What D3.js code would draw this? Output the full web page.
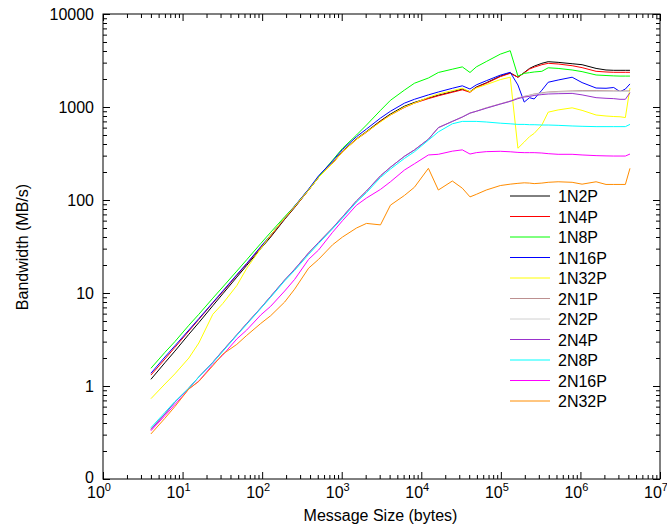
<!DOCTYPE html>
<html>
<head>
<meta charset="utf-8">
<script src="https://cdn.jsdelivr.net/npm/d3@7"></script>
<style>
  body { margin: 0; background: #fff; }
  text { font-family: "Liberation Sans", Arial, Helvetica, sans-serif; fill: #000; }
</style>
</head>
<body>
<div id="chart"></div>
<script>
// message sizes (bytes) shared by every run
const sizes = [4, 6, 8, 12, 16, 24, 32, 48, 64, 96, 128, 192, 256, 384, 512, 768, 1024, 1536, 2048, 3072,
  4096, 6144, 8192, 12288, 16384, 24576, 32768, 40960, 49152, 65536, 98304, 131072, 163840, 196608, 229376,
  262144, 327680, 393216, 524288, 786432, 1048576, 1572864, 2097152, 2621440, 3145728, 3670016, 4194304];

// bandwidth (MB/s) per run
const bw1N2P = [1.18, 1.78, 2.37, 3.6, 4.8, 7.3, 9.8, 14.8, 19.8, 30, 40, 62, 83, 128, 175, 250, 335, 455, 545, 710,
  840, 1020, 1120, 1250, 1340, 1460, 1560, 1460, 1640, 1820, 2150, 2330, 2090, 2350, 2600, 2750, 2950, 3070, 3020,
  2920, 2850, 2600, 2500, 2480, 2480, 2480, 2480];
const bw1N4P = [1.31, 1.95, 2.6, 3.9, 5.2, 7.8, 10.3, 15.5, 20.5, 31, 41, 63, 84, 128, 176, 248, 330, 450, 535, 700,
  820, 990, 1100, 1230, 1320, 1440, 1530, 1440, 1620, 1800, 2120, 2300, 2090, 2330, 2560, 2680, 2850, 2950, 2900,
  2780, 2650, 2420, 2380, 2360, 2360, 2360, 2360];
const bw1N8P = [1.55, 2.3, 3.0, 4.5, 5.9, 8.8, 11.6, 17.2, 22.8, 34, 45, 66, 86, 130, 178, 268, 360, 500, 640, 920,
  1180, 1520, 1800, 2050, 2350, 2550, 2700, 2350, 2700, 3080, 3700, 4030, 2150, 2300, 2340, 2380, 2420, 2640, 2600,
  2500, 2400, 2210, 2180, 2160, 2150, 2150, 2150];
const bw1N16P = [1.37, 2.05, 2.7, 4.0, 5.3, 7.9, 10.5, 15.7, 20.8, 31.5, 42, 64, 86, 131, 182, 262, 350, 480, 580, 760,
  900, 1100, 1210, 1350, 1450, 1590, 1690, 1560, 1730, 1915, 2200, 2360, 1725, 1130, 1260, 1220, 1515, 1845, 1950,
  2090, 1830, 1600, 1590, 1620, 1460, 1560, 1770];
const bw1N32P = [0.73, 1.05, 1.35, 2.0, 2.9, 5.9, 7.7, 12, 18.4, 30, 42, 64, 85, 128, 175, 248, 330, 450, 540, 690,
  820, 1000, 1100, 1270, 1380, 1500, 1590, 1460, 1600, 1740, 1970, 2090, 360, 420, 480, 520, 640, 880, 930,
  980, 920, 820, 800, 790, 785, 770, 1600];
const bw2N1P = [0.345, 0.5, 0.67, 0.95, 1.25, 1.8, 2.4, 3.55, 4.7, 6.9, 9.2, 13.8, 18, 27, 35, 50, 66, 98, 125, 182,
  225, 295, 345, 450, 600, 700, 780, 860, 900, 980, 1080, 1160, 1250, 1300, 1340, 1380, 1420, 1450, 1470,
  1490, 1500, 1500, 1495, 1490, 1490, 1490, 1490];
const bw2N2P = [0.34, 0.5, 0.67, 0.95, 1.25, 1.8, 2.4, 3.55, 4.7, 6.9, 9.2, 13.8, 18, 27, 35, 50, 66, 98, 125, 182,
  225, 295, 345, 450, 600, 700, 780, 860, 900, 975, 1075, 1150, 1240, 1290, 1330, 1370, 1400, 1430, 1450,
  1460, 1470, 1470, 1470, 1470, 1470, 1470, 1470];
const bw2N4P = [0.34, 0.5, 0.67, 0.95, 1.25, 1.8, 2.4, 3.55, 4.7, 6.9, 9.2, 13.8, 18, 27, 35, 50, 66, 98, 125, 182,
  225, 295, 345, 450, 600, 700, 780, 860, 900, 970, 1075, 1150, 1230, 1280, 1300, 1330, 1360, 1380, 1390,
  1400, 1350, 1260, 1240, 1230, 1210, 1210, 1425];
const bw2N8P = [0.356, 0.52, 0.68, 0.95, 1.25, 1.78, 2.35, 3.5, 4.6, 6.8, 9.0, 13.5, 17.5, 26, 34, 49, 64, 95, 120, 175,
  215, 280, 330, 440, 540, 660, 700, 700, 700, 690, 670, 660, 650, 650, 645, 645, 640, 640, 635,
  625, 620, 615, 615, 615, 615, 615, 650];
const bw2N16P = [0.33, 0.48, 0.63, 0.93, 1.13, 1.7, 2.15, 3.2, 4.0, 5.8, 7.2, 10.5, 14, 23, 29, 45, 60, 88, 105, 130,
  157, 210, 245, 305, 310, 335, 346, 312, 323, 331, 334, 330, 325, 323, 323, 323, 320, 315, 310,
  310, 305, 300, 298, 297, 297, 297, 312];
const bw2N32P = [0.305, 0.45, 0.6, 0.93, 1.12, 1.65, 2.2, 2.8, 3.5, 4.7, 5.7, 8.0, 11, 18.5, 23, 33, 40, 50, 56, 54,
  88, 112, 137, 219, 128, 160, 134, 108, 115, 128, 143, 148, 151, 153, 152, 150, 152, 155, 157,
  155, 148, 157, 147, 147, 147, 147, 219];

const seriesNames = ["1N2P", "1N4P", "1N8P", "1N16P", "1N32P", "2N1P", "2N2P", "2N4P", "2N8P", "2N16P", "2N32P"];
const seriesValues = [bw1N2P, bw1N4P, bw1N8P, bw1N16P, bw1N32P, bw2N1P, bw2N2P, bw2N4P, bw2N8P, bw2N16P, bw2N32P];
const seriesColors = ["#000000", "#ff0000", "#00ff00", "#0000ff", "#ffff00", "#bc9090", "#d0d0d0",
  "#9932cc", "#00ffff", "#ff00ff", "#ff8c00"];

const xMajor = [1, 10, 100, 1e3, 1e4, 1e5, 1e6, 1e7];
const yMajor = [0.1, 1, 10, 100, 1000, 10000];
const yTickLabels = ["0", "1", "10", "100", "1000", "10000"];

const W = 667, H = 531;
const plotL = 103, plotR = 660, plotT = 14, plotB = 479;

const svg = d3.select("#chart").append("svg")
  .attr("width", W)
  .attr("height", H);

const x = d3.scaleLog().domain([1, 1e7]).range([plotL, plotR]);
const y = d3.scaleLog().domain([0.1, 10000]).range([plotB, plotT]);

// minor ticks at 2..9 of every decade
const xMinor = [];
for (let d = 1; d < 1e7; d *= 10) for (let k = 2; k <= 9; k++) xMinor.push(d * k);
const yMinor = [];
for (let d = 0.1; d < 9999; d *= 10) for (let k = 2; k <= 9; k++) yMinor.push(+(d * k).toPrecision(3));

function tickAxis(axis, values, size, tx, ty) {
  svg.append("g")
    .attr("transform", `translate(${tx},${ty})`)
    .call(axis.tickValues(values).tickSize(size).tickFormat(""))
    .call(g => g.select(".domain").remove())
    .call(g => g.selectAll("line").attr("stroke", "#000").attr("stroke-width", 1));
}

// inward ticks on all four sides (mirrored)
tickAxis(d3.axisBottom(x), xMajor, -7, 0, plotB);
tickAxis(d3.axisBottom(x), xMinor, -4, 0, plotB);
tickAxis(d3.axisTop(x), xMajor, -7, 0, plotT);
tickAxis(d3.axisTop(x), xMinor, -4, 0, plotT);
tickAxis(d3.axisLeft(y), yMajor, -7, plotL, 0);
tickAxis(d3.axisLeft(y), yMinor, -4, plotL, 0);
tickAxis(d3.axisRight(y), yMajor, -7, plotR, 0);
tickAxis(d3.axisRight(y), yMinor, -4, plotR, 0);

// border
svg.append("rect")
  .attr("x", plotL).attr("y", plotT)
  .attr("width", plotR - plotL).attr("height", plotB - plotT)
  .attr("fill", "none").attr("stroke", "#000").attr("stroke-width", 1);

// y tick labels
svg.append("g").selectAll("text")
  .data(yMajor)
  .join("text")
  .attr("x", 94)
  .attr("y", (d, i) => y(d) + (i === 0 ? 4 : 6))
  .attr("text-anchor", "end")
  .attr("font-size", 16)
  .text((d, i) => yTickLabels[i]);

// x tick labels as 10^n
const xl = svg.append("g").selectAll("text")
  .data(xMajor)
  .join("text")
  .attr("x", d => x(d) - 4)
  .attr("y", 498)
  .attr("text-anchor", "middle")
  .attr("font-size", 16);
xl.append("tspan").text("10");
xl.append("tspan")
  .attr("dy", -7)
  .attr("font-size", 11)
  .text(d => Math.round(Math.log10(d)));

// axis titles
svg.append("text")
  .attr("x", (plotL + plotR) / 2 - 1)
  .attr("y", 521)
  .attr("text-anchor", "middle")
  .attr("font-size", 16)
  .text("Message Size (bytes)");

svg.append("text")
  .attr("transform", "translate(28,247) rotate(-90)")
  .attr("text-anchor", "middle")
  .attr("font-size", 16)
  .text("Bandwidth (MB/s)");

// data lines
const line = d3.line()
  .x((d, i) => x(sizes[i]))
  .y(d => y(d));

svg.append("g").selectAll("path")
  .data(seriesValues)
  .join("path")
  .attr("d", d => line(d))
  .attr("fill", "none")
  .attr("stroke", (d, i) => seriesColors[i])
  .attr("stroke-width", 1);

// legend
const leg = svg.append("g").selectAll("g")
  .data(seriesNames)
  .join("g")
  .attr("transform", (d, i) => `translate(0,${196 + i * 20.5})`);
leg.append("line")
  .attr("x1", 510).attr("x2", 550)
  .attr("y1", 0).attr("y2", 0)
  .attr("stroke", (d, i) => seriesColors[i])
  .attr("stroke-width", 1);
leg.append("text")
  .attr("x", 558)
  .attr("y", 6)
  .attr("font-size", 16)
  .text(d => d);
</script>
</body>
</html>
